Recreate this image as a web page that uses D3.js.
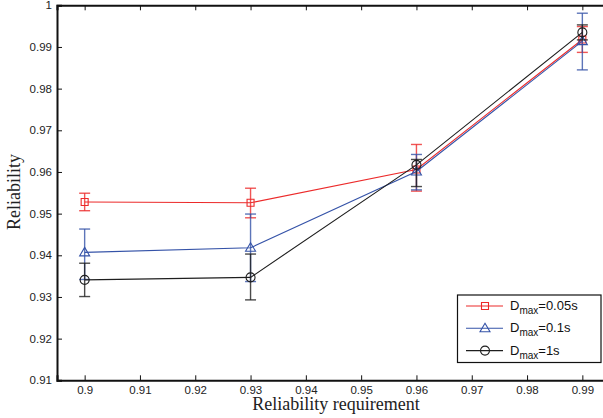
<!DOCTYPE html>
<html>
<head>
<meta charset="utf-8">
<script src="https://cdn.jsdelivr.net/npm/d3@7"></script>
<style>
  body { margin: 0; background: #fff; }
  svg { display: block; }
</style>
</head>
<body>
<div id="chart"></div>
<script>
// Data
var requirement = [0.9, 0.93, 0.96, 0.99];

var red05 = [0.9528, 0.9526, 0.9606, 0.9918];
var red05Hi = [0.9549, 0.9561, 0.9666, 0.9949];
var red05Lo = [0.9507, 0.9490, 0.9554, 0.9887];

var blue01 = [0.9407, 0.9418, 0.9601, 0.9914];
var blue01Hi = [0.9463, 0.9499, 0.9642, 0.9981];
var blue01Lo = [0.9342, 0.9337, 0.9557, 0.9845];

var black1 = [0.9341, 0.9347, 0.9617, 0.9935];
var black1Hi = [0.9381, 0.9403, 0.9630, 0.9953];
var black1Lo = [0.9301, 0.9293, 0.9565, 0.9917];

var xTicks = [0.9, 0.91, 0.92, 0.93, 0.94, 0.95, 0.96, 0.97, 0.98, 0.99];
var yTicks = [0.91, 0.92, 0.93, 0.94, 0.95, 0.96, 0.97, 0.98, 0.99, 1];

var seriesNames = ["=0.05s", "=0.1s", "=1s"];

var svgWidth = 603;
var svgHeight = 418;

var svg = d3.select("#chart")
  .append("svg")
  .attr("width", svgWidth)
  .attr("height", svgHeight);

// plot box in pixels
var plotLeft = 57, plotTop = 5.3, plotBottom = 380.3;

var xScale = d3.scaleLinear()
  .domain([0.895, 0.995])
  .range([plotLeft, plotLeft + 553]);

var yScale = d3.scaleLinear()
  .domain([0.91, 1])
  .range([plotBottom, plotTop]);

var series = [
  { name: seriesNames[0], y: red05, hi: red05Hi, lo: red05Lo, color: "#ec2a2a", marker: "square" },
  { name: seriesNames[1], y: blue01, hi: blue01Hi, lo: blue01Lo, color: "#3553a8", marker: "triangle" },
  { name: seriesNames[2], y: black1, hi: black1Hi, lo: black1Lo, color: "#1e1e1e", marker: "circle" }
];

var tickFont = "'Liberation Sans', Arial, sans-serif";

// axes
var xAxis = d3.axisBottom(xScale)
  .tickValues(xTicks)
  .tickSize(-5)
  .tickPadding(5.5)
  .tickFormat(d => d3.format("")(+d.toFixed(2)));

var xAxisTop = d3.axisTop(xScale)
  .tickValues(xTicks)
  .tickSize(-5)
  .tickFormat("");

var yAxis = d3.axisLeft(yScale)
  .tickValues(yTicks)
  .tickSize(-5)
  .tickPadding(5)
  .tickFormat(d => d3.format("")(+d.toFixed(2)));

var gx = svg.append("g")
  .attr("transform", `translate(0, ${plotBottom})`)
  .call(xAxis);

var gxTop = svg.append("g")
  .attr("transform", `translate(0, ${plotTop})`)
  .call(xAxisTop);

var gy = svg.append("g")
  .attr("transform", `translate(${plotLeft}, 0)`)
  .call(yAxis);

[gx, gxTop, gy].forEach(function (g) {
  g.select(".domain").attr("stroke", "#111").attr("stroke-width", 2);
  g.selectAll(".tick line").attr("stroke", "#111").attr("stroke-width", 1);
  g.selectAll(".tick text")
    .attr("font-family", tickFont)
    .attr("font-size", "11.5px")
    .attr("fill", "#222");
});

// series
var line = d3.line()
  .x((d, i) => xScale(requirement[i]))
  .y(d => yScale(d));

var capW = 5.5;

series.forEach(function (s) {
  var g = svg.append("g");

  g.append("path")
    .datum(s.y)
    .attr("fill", "none")
    .attr("stroke", s.color)
    .attr("stroke-width", 1.1)
    .attr("d", line);

  // error bars
  var eb = g.selectAll(".err")
    .data(requirement)
    .enter()
    .append("g")
    .attr("stroke", s.color)
    .attr("stroke-opacity", 0.8)
    .attr("stroke-width", 1.4);

  eb.append("line")
    .attr("x1", d => xScale(d))
    .attr("x2", d => xScale(d))
    .attr("y1", (d, i) => yScale(s.hi[i]))
    .attr("y2", (d, i) => yScale(s.lo[i]));

  eb.append("line")
    .attr("x1", d => xScale(d) - capW)
    .attr("x2", d => xScale(d) + capW)
    .attr("y1", (d, i) => yScale(s.hi[i]))
    .attr("y2", (d, i) => yScale(s.hi[i]));

  eb.append("line")
    .attr("x1", d => xScale(d) - capW)
    .attr("x2", d => xScale(d) + capW)
    .attr("y1", (d, i) => yScale(s.lo[i]))
    .attr("y2", (d, i) => yScale(s.lo[i]));

  g.selectAll(".mk")
    .data(s.y)
    .enter()
    .append("path")
    .attr("transform", (d, i) => `translate(${xScale(requirement[i])}, ${yScale(d)})`)
    .attr("d", markerPath(s.marker))
    .attr("fill", "none")
    .attr("stroke", s.color)
    .attr("stroke-width", 1.1);
});

function markerPath(type) {
  if (type == "square") return "M-3.5,-3.5H3.5V3.5H-3.5Z";
  if (type == "triangle") return "M0,-5L5,3.5H-5Z";
  return "M4.5,0A4.5,4.5 0 1,1 -4.5,0A4.5,4.5 0 1,1 4.5,0Z";
}

// legend
var legend = svg.append("g");

legend.append("rect")
  .attr("x", 457.5)
  .attr("y", 295)
  .attr("width", 143.5)
  .attr("height", 67.5)
  .attr("fill", "#fff")
  .attr("stroke", "#111")
  .attr("stroke-width", 1.2);

var rows = legend.selectAll(".row")
  .data(series)
  .enter()
  .append("g")
  .attr("transform", (d, i) => `translate(0, ${306 + i * 22.3})`);

rows.append("line")
  .attr("x1", 466)
  .attr("x2", 503)
  .attr("stroke", d => d.color)
  .attr("stroke-width", 1.1);

rows.append("path")
  .attr("transform", "translate(485, 0)")
  .attr("d", d => markerPath(d.marker))
  .attr("fill", "none")
  .attr("stroke", d => d.color)
  .attr("stroke-width", 1.1);

var lt = rows.append("text")
  .attr("x", 510)
  .attr("y", 4)
  .attr("font-family", tickFont)
  .attr("font-size", "13px")
  .attr("fill", "#111");

lt.append("tspan").text("D");
lt.append("tspan").attr("dy", 4).attr("font-size", "10px").text("max");
lt.append("tspan").attr("dy", -4).text(d => d.name);

// axis titles
svg.append("text")
  .attr("transform", "translate(20, 192) rotate(-90)")
  .attr("text-anchor", "middle")
  .attr("font-family", "'Liberation Serif', 'Times New Roman', serif")
  .attr("font-size", "18px")
  .attr("fill", "#222")
  .text("Reliability");

svg.append("text")
  .attr("x", 336)
  .attr("y", 410)
  .attr("text-anchor", "middle")
  .attr("font-family", "'Liberation Serif', 'Times New Roman', serif")
  .attr("font-size", "18px")
  .attr("fill", "#222")
  .text("Reliability requirement");
</script>
</body>
</html>
